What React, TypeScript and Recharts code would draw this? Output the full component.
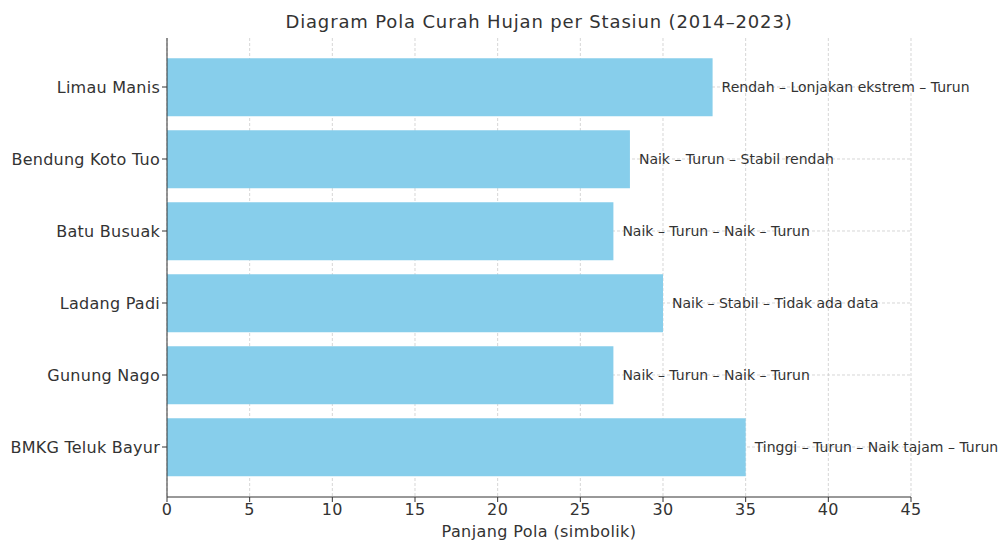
import { Bar, BarChart, CartesianGrid, LabelList, XAxis, YAxis } from "recharts";

const stations = ["Limau Manis", "Bendung Koto Tuo", "Batu Busuak", "Ladang Padi", "Gunung Nago", "BMKG Teluk Bayur"];
const patternLengths = [33, 28, 27, 30, 27, 35];
const patterns = [
  "Rendah – Lonjakan ekstrem – Turun",
  "Naik – Turun – Stabil rendah",
  "Naik – Turun – Naik – Turun",
  "Naik – Stabil – Tidak ada data",
  "Naik – Turun – Naik – Turun",
  "Tinggi – Turun – Naik tajam – Turun",
];
const xTicks = [0, 5, 10, 15, 20, 25, 30, 35, 40, 45];

const data = stations.map((station, i) => ({
  station,
  length: patternLengths[i],
  pattern: patterns[i],
}));

const font = "'DejaVu Sans', sans-serif";

export default function App() {
  return (
    <div style={{ position: "absolute", left: 0, top: 0, width: 1000, height: 540, fontFamily: font, background: "#fff" }}>
      <div
        style={{
          position: "absolute",
          left: 167,
          width: 744,
          top: 11,
          textAlign: "center",
          fontSize: 18,
          letterSpacing: 0.85,
          color: "#333",
        }}
      >
        Diagram Pola Curah Hujan per Stasiun (2014–2023)
      </div>
      <BarChart
        width={1000}
        height={540}
        data={data}
        layout="vertical"
        margin={{ top: 38, right: 89, bottom: 0, left: 0 }}
        barCategoryGap="10%"
      >
        <XAxis
          type="number"
          domain={[0, 45]}
          ticks={xTicks}
          height={43}
          tickSize={5}
          stroke="#333"
          tick={{ fill: "#333", fontSize: 16, fontFamily: font, letterSpacing: 0.4 }}
          label={{
            value: "Panjang Pola (simbolik)",
            position: "insideBottom",
            offset: 3,
            fill: "#333",
            fontSize: 16,
            fontFamily: font,
            letterSpacing: 0.4,
          }}
        />
        <YAxis
          type="category"
          dataKey="station"
          width={167}
          tickSize={5}
          padding={{ top: 13, bottom: 14 }}
          stroke="#333"
          tick={{ fill: "#333", fontSize: 16, fontFamily: font, letterSpacing: 0.25 }}
        />
        <Bar dataKey="length" fill="#87CEEB" isAnimationActive={false}>
          <LabelList dataKey="pattern" position="right" offset={9} fill="#333" fontSize={14} fontFamily={font} />
        </Bar>
        <CartesianGrid stroke="#ccc" strokeDasharray="3 2" strokeOpacity={0.8} syncWithTicks />
      </BarChart>
    </div>
  );
}
